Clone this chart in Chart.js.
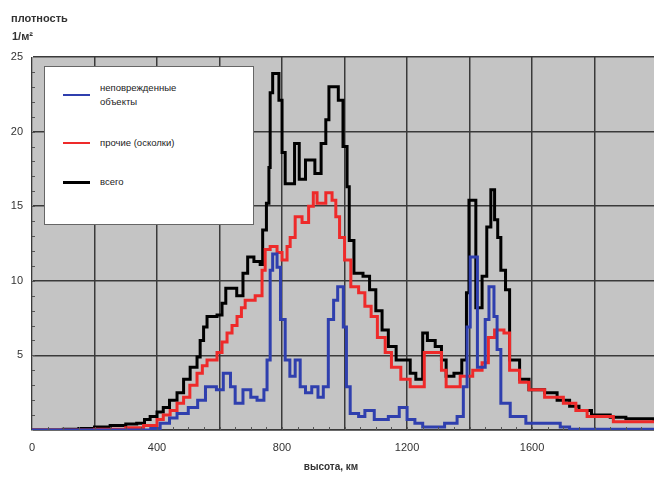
<!DOCTYPE html>
<html>
<head>
<meta charset="utf-8">
<script src="https://cdn.jsdelivr.net/npm/chart.js@4.4.1/dist/chart.umd.min.js"></script>
<style>
  body { margin: 0; background: #fff; }
  #wrap { position: relative; width: 654px; height: 479px; }
  #legend-box {
    position: absolute; left: 44px; top: 66px; width: 210px; height: 159px;
    background: #fff; border: 1px solid #666; box-sizing: border-box;
    font-family: "Liberation Sans", Arial, sans-serif; font-size: 9.5px; color: #222;
  }
  .item { position: absolute; left: 18px; display: flex; align-items: center; }
  .item div.ln { width: 27px; margin-right: 10px; }
  .item span.tx { line-height: 14px; }
</style>
</head>
<body>
<div id="wrap">
  <canvas id="chart_density" width="654" height="479"></canvas>
  <div id="legend-box"></div>
</div>
<script>
// высота, км / плотность for each series (step lines)
var blue_km  = [0, 380, 410, 440, 464, 500, 530, 555, 590, 612, 635, 650, 675, 700, 720, 742, 752, 762, 770, 784, 795, 810, 825, 842, 858, 875, 895, 915, 932, 948, 965, 978, 996, 1006, 1018, 1045, 1065, 1095, 1140, 1175, 1200, 1225, 1250, 1320, 1360, 1380, 1392, 1402, 1425, 1450, 1462, 1478, 1488, 1500, 1530, 1580, 1690, 1720, 1990];
var blue_val = [0, 0.1, 0.45, 0.8, 1.1, 1.5, 2.0, 2.9, 2.7, 3.8, 2.9, 1.8, 2.7, 2.2, 2.0, 2.7, 4.7, 10.7, 11.8, 10.9, 7.4, 4.7, 3.6, 4.7, 2.9, 2.5, 2.9, 2.2, 2.9, 7.4, 8.7, 9.6, 6.9, 2.9, 1.1, 0.9, 1.3, 0.7, 0.9, 1.5, 0.7, 0.45, 0.2, 0.45, 0.9, 2.9, 6.9, 11.6, 4.2, 7.4, 9.6, 7.6, 5.4, 1.8, 0.9, 0.45, 0.2, 0.05, 0.05];

var red_km  = [0, 200, 300, 357, 400, 420, 442, 464, 485, 505, 528, 545, 560, 592, 608, 624, 640, 656, 670, 682, 714, 736, 746, 762, 784, 800, 816, 826, 842, 864, 885, 900, 912, 940, 960, 972, 984, 1000, 1020, 1045, 1065, 1085, 1105, 1130, 1150, 1180, 1210, 1255, 1300, 1310, 1325, 1370, 1410, 1440, 1460, 1480, 1510, 1528, 1560, 1590, 1640, 1700, 1740, 1776, 1860, 1990];
var red_val = [0, 0.05, 0.15, 0.3, 0.7, 1.0, 1.3, 1.8, 2.2, 3.0, 3.8, 4.3, 4.7, 5.2, 5.9, 6.5, 7.0, 7.6, 8.2, 8.7, 9.0, 10.7, 12.1, 12.3, 11.9, 11.4, 12.3, 12.9, 14.3, 13.9, 15.0, 15.9, 15.2, 15.9, 15.4, 14.3, 12.9, 11.4, 9.6, 9.2, 8.3, 7.6, 6.2, 5.2, 4.2, 3.4, 2.9, 5.2, 5.2, 4.0, 2.9, 3.6, 4.0, 4.5, 6.2, 6.7, 6.5, 4.0, 3.2, 2.7, 2.2, 1.8, 1.3, 0.9, 0.55, 0.45];

var black_km  = [0, 100, 150, 200, 250, 300, 335, 360, 378, 400, 420, 440, 464, 485, 506, 528, 538, 549, 560, 592, 608, 620, 655, 675, 690, 710, 730, 738, 750, 758, 762, 770, 790, 800, 810, 835, 840, 855, 875, 905, 925, 940, 950, 980, 995, 1008, 1015, 1030, 1059, 1080, 1100, 1120, 1140, 1165, 1210, 1228, 1250, 1265, 1290, 1310, 1325, 1350, 1375, 1390, 1398, 1420, 1440, 1455, 1468, 1480, 1490, 1500, 1515, 1528, 1560, 1590, 1640, 1680, 1720, 1750, 1790, 1850, 1900, 1990];
var black_val = [0, 0.05, 0.1, 0.2, 0.3, 0.4, 0.45, 0.7, 0.9, 1.2, 1.5, 2.0, 2.5, 3.4, 4.2, 4.9, 6.0, 6.9, 7.6, 7.7, 8.5, 9.5, 9.0, 10.5, 11.6, 11.3, 11.1, 13.4, 15.2, 17.6, 22.6, 23.9, 22.1, 18.6, 16.5, 16.5, 19.2, 16.8, 18.1, 17.2, 19.2, 20.8, 23.0, 22.1, 19.0, 16.3, 12.7, 10.5, 10.3, 9.4, 8.0, 6.7, 5.6, 4.7, 3.8, 3.4, 6.5, 6.0, 5.6, 4.7, 3.6, 3.8, 4.7, 9.2, 15.4, 8.2, 10.3, 13.6, 16.1, 14.1, 12.9, 10.7, 9.4, 4.7, 3.4, 2.7, 2.5, 2.0, 1.6, 1.3, 1.0, 0.85, 0.75, 0.55];

var x_labels = [0, 400, 800, 1200, 1600];
var y_labels = [5, 10, 15, 20, 25];
var series_names = ['неповрежденные\nобъекты', 'прочие (осколки)', 'всего'];
var series_colors = ['#2f3fae', '#ee2a2a', '#000000'];

var font_family = '"Liberation Sans", Arial, sans-serif';

function to_points(xs, ys) {
  var pts = [];
  for (var i = 0; i < xs.length; i++) {
    pts.push({x: xs[i], y: ys[i]});
  }
  return pts;
}

// gray plot area, minor ticks, axis titles
var decorPlugin = {
  id: 'decor',
  beforeDraw: function (chart) {
    var a = chart.chartArea;
    var ctx = chart.ctx;
    ctx.save();
    ctx.fillStyle = '#c4c4c4';
    ctx.fillRect(a.left, a.top, a.right - a.left, a.bottom - a.top);
    ctx.restore();
  },
  afterDatasetsDraw: function (chart) {
    var ctx = chart.ctx;
    var a = chart.chartArea;
    var xs = chart.scales.x, ys = chart.scales.y;
    ctx.save();
    ctx.strokeStyle = '#555';
    ctx.lineWidth = 1;
    ctx.beginPath();
    for (var v = 50; v < 2000; v += 50) {
      var px = Math.round(xs.getPixelForValue(v)) + 0.5;
      ctx.moveTo(px, a.bottom);
      ctx.lineTo(px, a.bottom - 3);
    }
    for (var w = 1; w < 25; w++) {
      var py = Math.round(ys.getPixelForValue(w)) + 0.5;
      ctx.moveTo(a.left, py);
      ctx.lineTo(a.left + 3, py);
    }
    ctx.stroke();

    ctx.fillStyle = '#333';
    ctx.font = 'bold 11px ' + font_family;
    ctx.textAlign = 'left';
    ctx.textBaseline = 'middle';
    ctx.fillText('плотность', 11, 19);
    ctx.fillText('1/м²', 12, 37);
    ctx.font = 'bold 10px ' + font_family;
    ctx.textAlign = 'center';
    ctx.fillText('высота, км', 331, 467);
    ctx.restore();
  }
};

function make_chart() {
  var ctx = document.getElementById('chart_density').getContext('2d');
  var sets = [
    {label: series_names[0], data: to_points(blue_km, blue_val), borderColor: series_colors[0]},
    {label: series_names[1], data: to_points(red_km, red_val), borderColor: series_colors[1]},
    {label: series_names[2], data: to_points(black_km, black_val), borderColor: series_colors[2]}
  ];
  for (var i = 0; i < sets.length; i++) {
    sets[i].stepped = true;
    sets[i].borderWidth = 3;
    sets[i].pointRadius = 0;
    sets[i].fill = false;
  }
  new Chart(ctx, {
    type: 'line',
    data: {datasets: sets},
    plugins: [decorPlugin],
    options: {
      responsive: false,
      animation: false,
      layout: {padding: {top: 57, right: 0, left: 0, bottom: 0}},
      plugins: {legend: {display: false}, tooltip: {enabled: false}},
      scales: {
        x: {
          type: 'linear', min: 0, max: 1990,
          afterFit: function (s) { s.height = 49; },
          afterBuildTicks: function (s) {
            var t = [];
            for (var v = 0; v <= 1800; v += 200) t.push({value: v});
            s.ticks = t;
          },
          ticks: {
            autoSkip: false, maxRotation: 0, padding: 11,
            color: '#333', font: {family: font_family, size: 11},
            callback: function (v) { return x_labels.indexOf(v) >= 0 ? String(v) : ''; }
          },
          grid: {color: '#3a3a3a', lineWidth: 1.5, drawTicks: false},
          border: {display: true, color: '#3a3a3a', width: 1.5}
        },
        y: {
          min: 0, max: 25,
          afterFit: function (s) { s.width = 32; },
          ticks: {
            stepSize: 5, padding: 9,
            color: '#333', font: {family: font_family, size: 11},
            callback: function (v) { return y_labels.indexOf(v) >= 0 ? String(v) : ''; }
          },
          grid: {color: '#3a3a3a', lineWidth: 1.5, drawTicks: false},
          border: {display: true, color: '#9a9a9a', width: 1}
        }
      }
    }
  });
}

function make_legend() {
  var box = document.getElementById('legend-box');
  var tops = [14, 69, 108];
  var widths = [2, 2, 3];
  for (var i = 0; i < series_names.length; i++) {
    var d = document.createElement('div');
    d.className = 'item';
    d.style.top = tops[i] + 'px';
    var ln = document.createElement('div');
    ln.className = 'ln';
    ln.style.height = widths[i] + 'px';
    ln.style.background = series_colors[i];
    var tx = document.createElement('span');
    tx.className = 'tx';
    tx.innerHTML = series_names[i].replace('\n', '<br>');
    d.appendChild(ln);
    d.appendChild(tx);
    box.appendChild(d);
  }
}

make_chart();
make_legend();
</script>
</body>
</html>
